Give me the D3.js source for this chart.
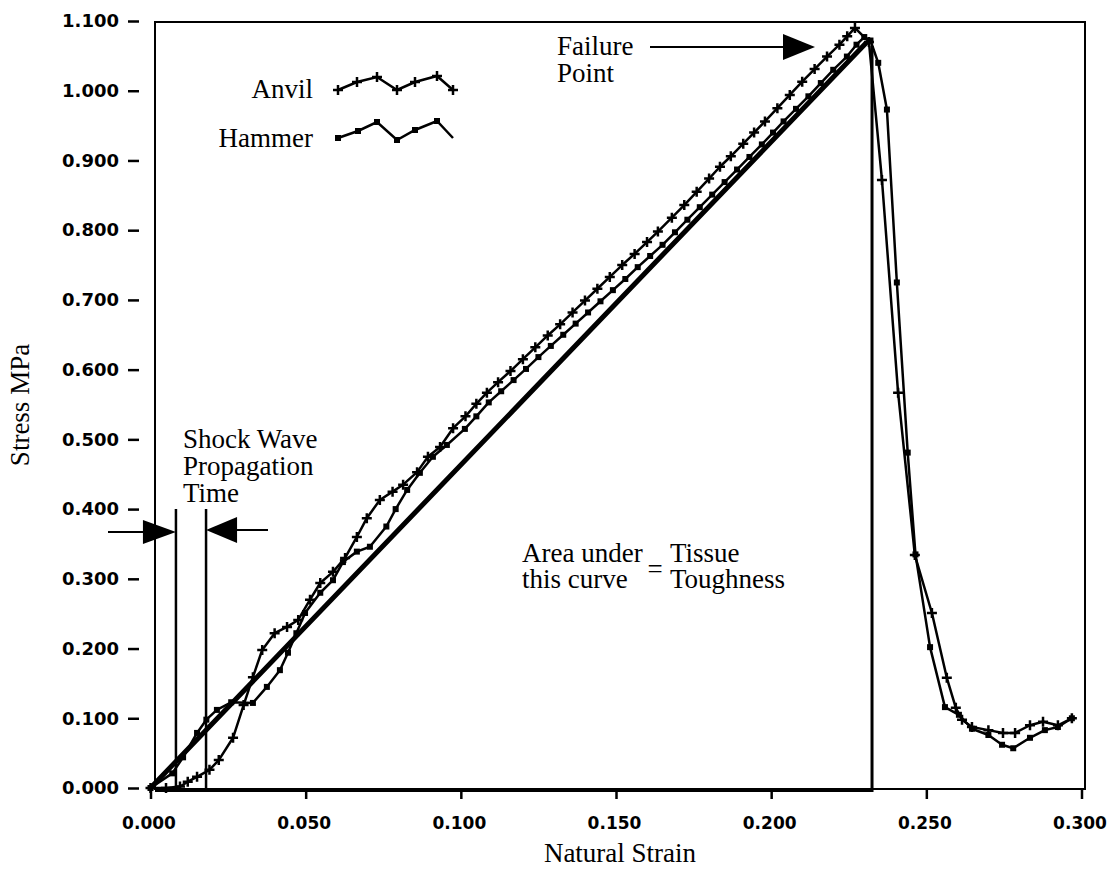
<!DOCTYPE html>
<html>
<head>
<meta charset="utf-8">
<script src="https://cdn.jsdelivr.net/npm/d3@7"></script>
<style>
  body { margin: 0; background: #fff; }
  svg { display: block; }
</style>
</head>
<body>
<div id="chart"></div>
<script>
// ticks
var xTicks = [0, 0.05, 0.10, 0.15, 0.20, 0.25, 0.30];
var yTicks = [0, 0.1, 0.2, 0.3, 0.4, 0.5, 0.6, 0.7, 0.8, 0.9, 1.0, 1.1];

// Anvil series (+ markers)
var anvilStrain = [0.000, 0.005, 0.0095, 0.012, 0.015, 0.019, 0.022, 0.0266, 0.030, 0.033,
  0.036, 0.040, 0.044, 0.0476, 0.0514, 0.0547, 0.0588, 0.0627, 0.0665, 0.0697,
  0.0739, 0.078, 0.0814, 0.0859, 0.0894, 0.0933, 0.0975, 0.1015, 0.105, 0.1084,
  0.112, 0.116, 0.120, 0.124, 0.128, 0.132, 0.136, 0.140, 0.144, 0.148,
  0.152, 0.156, 0.160, 0.1635, 0.168, 0.172, 0.176, 0.180, 0.1835, 0.187,
  0.191, 0.1945, 0.198, 0.202, 0.206, 0.210, 0.214, 0.218, 0.222, 0.2245,
  0.227, 0.2315, 0.2357, 0.2409, 0.2463, 0.2518, 0.2566, 0.2595, 0.2615, 0.2647,
  0.270, 0.2747, 0.2786, 0.2834, 0.2876, 0.2924, 0.2969];
var anvilStress = [0.000, 0.000, 0.002, 0.009, 0.016, 0.026, 0.040, 0.072, 0.119, 0.159,
  0.198, 0.222, 0.231, 0.241, 0.270, 0.294, 0.310, 0.330, 0.360, 0.387,
  0.413, 0.425, 0.435, 0.453, 0.475, 0.489, 0.516, 0.533, 0.551, 0.567,
  0.582, 0.598, 0.615, 0.632, 0.649, 0.665, 0.682, 0.699, 0.716, 0.733,
  0.750, 0.766, 0.783, 0.798, 0.818, 0.836, 0.855, 0.874, 0.891, 0.906,
  0.924, 0.940, 0.956, 0.975, 0.994, 1.013, 1.031, 1.049, 1.066, 1.078,
  1.090, 1.070, 0.872, 0.567, 0.334, 0.251, 0.158, 0.115, 0.098, 0.0875,
  0.083, 0.079, 0.079, 0.090, 0.095, 0.090, 0.100];

// Hammer series (square markers)
var hammerStrain = [0.000, 0.007, 0.0105, 0.015, 0.018, 0.0214, 0.026, 0.033, 0.0375, 0.0417,
  0.0443, 0.047, 0.0498, 0.0547, 0.0588, 0.062, 0.0665, 0.0707, 0.076, 0.079,
  0.0827, 0.0868, 0.091, 0.0955, 0.1013, 0.105, 0.109, 0.113, 0.117, 0.121,
  0.125, 0.129, 0.133, 0.137, 0.141, 0.145, 0.149, 0.153, 0.157, 0.161,
  0.165, 0.169, 0.173, 0.177, 0.181, 0.185, 0.189, 0.193, 0.197, 0.2006,
  0.204, 0.208, 0.212, 0.216, 0.220, 0.2244, 0.2275, 0.230, 0.232, 0.2345,
  0.2373, 0.2405, 0.244, 0.2465, 0.2512, 0.256, 0.2605, 0.2647, 0.270, 0.2744,
  0.278, 0.2834, 0.2882, 0.2924, 0.2969];
var hammerStress = [0.000, 0.021, 0.044, 0.079, 0.098, 0.112, 0.123, 0.122, 0.145, 0.169,
  0.194, 0.222, 0.251, 0.280, 0.298, 0.324, 0.339, 0.346, 0.375, 0.400,
  0.4275, 0.452, 0.475, 0.492, 0.515, 0.533, 0.553, 0.569, 0.585, 0.601,
  0.618, 0.634, 0.650, 0.666, 0.682, 0.698, 0.714, 0.730, 0.747, 0.763,
  0.779, 0.797, 0.815, 0.833, 0.851, 0.869, 0.887, 0.905, 0.923, 0.940,
  0.956, 0.974, 0.992, 1.011, 1.030, 1.049, 1.066, 1.077, 1.072, 1.040,
  0.973, 0.725, 0.481, 0.335, 0.202, 0.116, 0.105, 0.085, 0.076, 0.062,
  0.057, 0.072, 0.083, 0.0875, 0.100];

// idealised toughness triangle
var idealStrain = [0.000, 0.2305];
var idealStress = [0.000, 1.068];
var failureStrain = 0.2325;
var failureTop = 1.064;
// shock wave markers
var shockStrain = [0.0082, 0.0179];
var shockTop = 0.40;
var shockArrowStress = [0.367, 0.370];

var W = 1108, H = 869;
var serif = '"Liberation Serif", "Times New Roman", serif';
var sans = '"DejaVu Sans", sans-serif';

var svg = d3.select('#chart').append('svg')
  .attr('width', W).attr('height', H);

var x = d3.scaleLinear().domain([0, 0.3]).range([150.5, 1081.5]);
var y = d3.scaleLinear().domain([0, 1.1]).range([788, 21]);

// frame
var frame = {left: 155, right: 1085, top: 22, bottom: 789};
svg.append('rect')
  .attr('x', frame.left).attr('y', frame.top)
  .attr('width', frame.right - frame.left).attr('height', frame.bottom - frame.top)
  .attr('fill', 'none').attr('stroke', '#000').attr('stroke-width', 2);

// y axis (detached dashes)
var yAxis = d3.axisLeft(y).tickValues(yTicks).tickSize(11).tickPadding(9)
  .tickFormat(d3.format('.3f'));
var gy = svg.append('g').attr('transform', 'translate(139,0)').call(yAxis);
gy.select('.domain').remove();
gy.selectAll('.tick line').attr('stroke-width', 2.5);
gy.selectAll('.tick text').style('font-family', sans).style('font-weight', 'bold')
  .style('font-size', '18px').attr('fill', '#000');

// x axis
var xAxis = d3.axisBottom(x).tickValues(xTicks).tickSize(10).tickPadding(18)
  .tickFormat(d3.format('.3f'));
var gx = svg.append('g').attr('transform', 'translate(0,' + frame.bottom + ')').call(xAxis);
gx.select('.domain').remove();
gx.selectAll('.tick line').attr('stroke-width', 2.5);
gx.selectAll('.tick text').style('font-family', sans).style('font-weight', 'bold')
  .style('font-size', '17px').attr('fill', '#000').attr('dx', -2);

// thick baseline under the toughness area
svg.append('line')
  .attr('x1', frame.left).attr('x2', x(failureStrain))
  .attr('y1', y(0) + 2).attr('y2', y(0) + 2)
  .attr('stroke', '#000').attr('stroke-width', 4);

// axis titles
svg.append('text').attr('x', 620).attr('y', 862)
  .attr('text-anchor', 'middle').style('font-family', serif).style('font-size', '27px')
  .text('Natural Strain');
svg.append('text').attr('transform', 'translate(29,405) rotate(-90)')
  .attr('text-anchor', 'middle').style('font-family', serif).style('font-size', '27px')
  .text('Stress MPa');

// idealised line + failure vertical
svg.append('line')
  .attr('x1', x(idealStrain[0])).attr('y1', y(idealStress[0]))
  .attr('x2', x(idealStrain[1])).attr('y2', y(idealStress[1]))
  .attr('stroke', '#000').attr('stroke-width', 5).attr('stroke-linecap', 'round');
svg.append('line')
  .attr('x1', x(failureStrain)).attr('x2', x(failureStrain))
  .attr('y1', y(failureTop)).attr('y2', y(0) + 4)
  .attr('stroke', '#000').attr('stroke-width', 3);

// shock wave lines
svg.selectAll('.shock').data(shockStrain).enter().append('line')
  .attr('class', 'shock')
  .attr('x1', function(d) { return x(d); }).attr('x2', function(d) { return x(d); })
  .attr('y1', y(shockTop)).attr('y2', y(0) + 2)
  .attr('stroke', '#000').attr('stroke-width', 2.5);

// series
var line = d3.line().x(function(d) { return x(d[0]); }).y(function(d) { return y(d[1]); });
var anvil = d3.zip(anvilStrain, anvilStress);
var hammer = d3.zip(hammerStrain, hammerStress);

svg.append('path').datum(hammer).attr('d', line)
  .attr('fill', 'none').attr('stroke', '#000').attr('stroke-width', 2.5)
  .attr('stroke-linejoin', 'round');
svg.append('path').datum(anvil).attr('d', line)
  .attr('fill', 'none').attr('stroke', '#000').attr('stroke-width', 2.5)
  .attr('stroke-linejoin', 'round');

var plusPath = 'M-5,0H5M0,-5V5';
svg.selectAll('.hm').data(hammer).enter().append('rect')
  .attr('class', 'hm')
  .attr('x', function(d) { return x(d[0]) - 3; })
  .attr('y', function(d) { return y(d[1]) - 3; })
  .attr('width', 6).attr('height', 6).attr('fill', '#000');
svg.selectAll('.am').data(anvil).enter().append('path')
  .attr('class', 'am')
  .attr('transform', function(d) { return 'translate(' + x(d[0]) + ',' + y(d[1]) + ')'; })
  .attr('d', plusPath).attr('stroke', '#000').attr('stroke-width', 2.5).attr('fill', 'none');

// legend
var legAnvil = [[338, 90], [357, 82], [377, 77], [397, 90], [415, 82], [437, 76], [453, 90]];
var legHammer = [[338, 138], [358, 131], [377, 122], [397, 140], [415, 130], [437, 121], [453, 138]];
var pline = d3.line();
svg.append('path').attr('d', pline(legAnvil)).attr('fill', 'none')
  .attr('stroke', '#000').attr('stroke-width', 2.5);
svg.append('path').attr('d', pline(legHammer)).attr('fill', 'none')
  .attr('stroke', '#000').attr('stroke-width', 2.5);
legAnvil.forEach(function(p) {
  svg.append('path').attr('transform', 'translate(' + p[0] + ',' + p[1] + ')')
    .attr('d', plusPath).attr('stroke', '#000').attr('stroke-width', 2.5);
});
legHammer.slice(0, 6).forEach(function(p) {
  svg.append('rect').attr('x', p[0] - 3).attr('y', p[1] - 3)
    .attr('width', 6).attr('height', 6).attr('fill', '#000');
});
svg.append('text').attr('x', 313).attr('y', 98).attr('text-anchor', 'end')
  .style('font-family', serif).style('font-size', '27px').text('Anvil');
svg.append('text').attr('x', 313).attr('y', 147).attr('text-anchor', 'end')
  .style('font-family', serif).style('font-size', '27px').text('Hammer');

// annotations
function label(lines, x0, y0, dy) {
  var t = svg.append('text').style('font-family', serif).style('font-size', '27px');
  lines.forEach(function(s, i) {
    t.append('tspan').attr('x', x0).attr('y', y0 + i * dy).text(s);
  });
}
label(['Shock Wave', 'Propagation', 'Time'], 183, 448, 27);
label(['Failure', 'Point'], 557, 55, 27);
label(['Area under', 'this curve'], 522, 562, 26);
label(['Tissue', 'Toughness'], 670, 562, 26);
svg.append('text').attr('x', 655).attr('y', 578).attr('text-anchor', 'middle')
  .style('font-family', serif).style('font-size', '27px').text('=');

function arrowHead(tipX, tipY, dir, len, half) {
  var bx = tipX - dir * len;
  svg.append('path')
    .attr('d', 'M' + tipX + ',' + tipY + 'L' + bx + ',' + (tipY - half) + 'L' + bx + ',' + (tipY + half) + 'Z')
    .attr('fill', '#000');
}
// failure arrow
svg.append('line').attr('x1', 650).attr('x2', 790).attr('y1', 47).attr('y2', 47)
  .attr('stroke', '#000').attr('stroke-width', 2);
arrowHead(815, 47, 1, 32, 13);

// shock wave arrows
var ya = y(shockArrowStress[0]), yb = y(shockArrowStress[1]);
svg.append('line').attr('x1', 108).attr('x2', x(shockStrain[0]) - 25).attr('y1', ya).attr('y2', ya)
  .attr('stroke', '#000').attr('stroke-width', 2);
arrowHead(x(shockStrain[0]), ya, 1, 33, 12);
svg.append('line').attr('x1', x(shockStrain[1]) + 25).attr('x2', 268).attr('y1', yb).attr('y2', yb)
  .attr('stroke', '#000').attr('stroke-width', 2);
arrowHead(x(shockStrain[1]), yb, -1, 31, 13);
</script>
</body>
</html>
